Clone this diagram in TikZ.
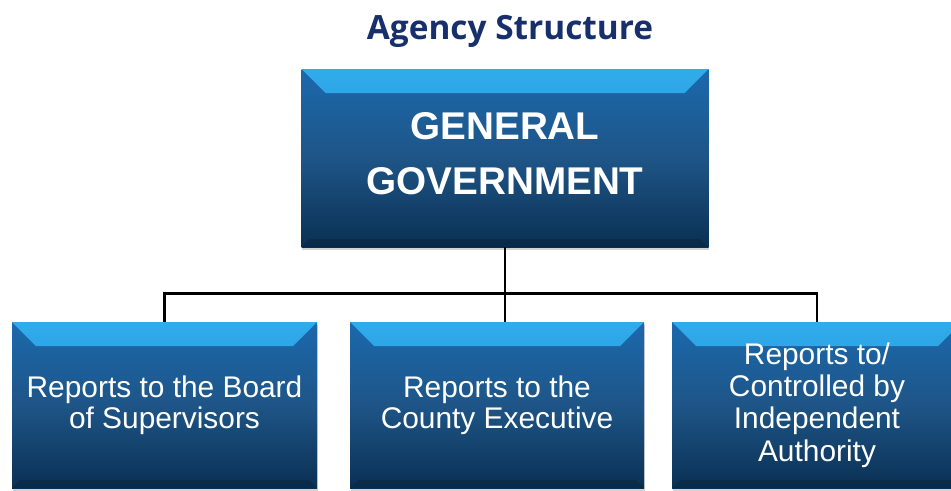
\documentclass[tikz,border=0pt]{standalone}
\usepackage{fontspec}
\usepackage{tikz}
\usetikzlibrary{shadows}
\usetikzlibrary{calc,positioning}

\newfontfamily\boxfont{Liberation Sans}
\newfontfamily\titlefont{Open Sans}

\definecolor{titleblue}{HTML}{17306B}
\definecolor{beveltop}{HTML}{4ADBFF}
\definecolor{bevelmid}{HTML}{2A9FE4}
\definecolor{bevelbot}{HTML}{1A72BA}
\definecolor{bodytop}{HTML}{1B69AD}
\definecolor{bodymid}{HTML}{1E5587}
\definecolor{bodybot}{HTML}{0A3053}

\pgfdeclareverticalshading{bevelshade}{100bp}{color(0bp)=(bevelbot); color(60bp)=(bevelmid); color(88bp)=(bevelmid!60!beveltop); color(100bp)=(beveltop)}

\tikzset{
  bevelbox/.style={rectangle, inner sep=0pt, align=center, text=white,
    top color=bodytop, bottom color=bodybot, middle color=bodymid,
    drop shadow={shadow xshift=0.5pt, shadow yshift=-2.5pt, opacity=0.35},
    path picture={
      \shade[shading=bevelshade]
        (path picture bounding box.north west) -- (path picture bounding box.north east)
        -- ++(-24,-24) -- ($(path picture bounding box.north west)+(24,-24)$) -- cycle;
      \fill[bodybot!70!black, opacity=0.4]
        (path picture bounding box.south west) -- (path picture bounding box.south east)
        -- ++(-8,8) -- ($(path picture bounding box.south west)+(8,8)$) -- cycle;
    }},
  topbox/.style={bevelbox, minimum width=407*0.03cm, minimum height=178*0.03cm,
    font=\boxfont\bfseries\fontsize{33}{47}\selectfont},
  subbox/.style={bevelbox, minimum height=166*0.03cm,
    font=\boxfont\fontsize{25.5}{26.5}\selectfont},
  conn/.style={line width=2.4pt, black}
}

\begin{document}
\begin{tikzpicture}[x=0.03cm, y=0.03cm]
    \useasboundingbox (0,0) rectangle (951,490);

    % title
    \node[font=\titlefont\bfseries\fontsize{28.5}{32}\selectfont, text=titleblue] (title) at (510,459) {Agency Structure};

    % boxes
    \node[topbox] (gen) at (505,332) {GENERAL\\GOVERNMENT\vphantom{g}};
    \node[subbox, minimum width=305*0.03cm] (bos) at (164.5,85) {Reports to the Board\\of Supervisors};
    \node[subbox, minimum width=294*0.03cm] (ce) at (497,85) {Reports to the\\County Executive};
    \node[subbox, minimum width=290*0.03cm, font=\boxfont\fontsize{25.5}{27.5}\selectfont] (ind) at (817,85) {Reports to/\\Controlled by\\Independent\\Authority};

    % connectors
    \draw[conn] (gen.south) -- (gen.south |- ce.north);
    \draw[conn] (bos.north) -- ++(0,28) coordinate (bus) -| (ind.north);

\end{tikzpicture}
\end{document}
